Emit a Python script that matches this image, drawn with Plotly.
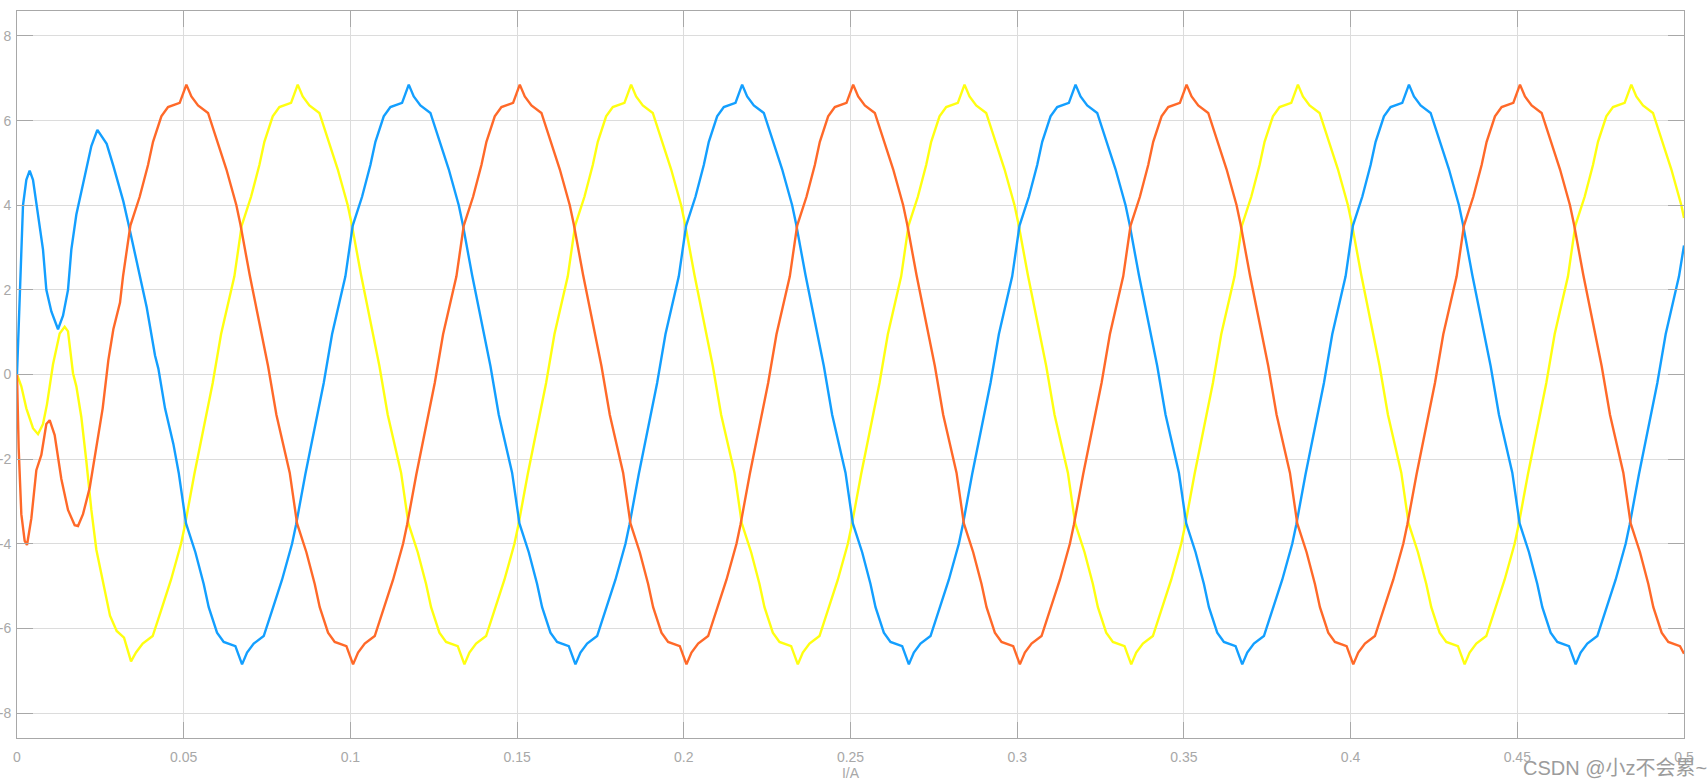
import plotly.graph_objects as go

# ---------------- data (time in s, current in A) ----------------
blue_t = [
    0.0000, 0.0008, 0.0018, 0.0028, 0.0038, 0.0048, 0.0063, 0.0078, 0.0088, 0.0103,
    0.0123, 0.0138, 0.0153, 0.0163, 0.0178, 0.0198, 0.0223, 0.0241, 0.0253, 0.0269,
    0.0289, 0.0319, 0.0334, 0.0359, 0.0389, 0.0414, 0.0424, 0.0444, 0.0469,
    0.0485, 0.0507, 0.0535, 0.0560, 0.0575, 0.0600, 0.0620, 0.0655, 0.0675,
    0.0690, 0.0710, 0.0740, 0.0765, 0.0795, 0.0825, 0.0837, 0.0865, 0.0895, 0.0920, 0.0945, 0.0965, 0.0985, 0.1007, 0.1035, 0.1060, 0.1075, 0.1100, 0.1120, 0.1155, 0.1175,
    0.1190, 0.1210, 0.1240, 0.1265, 0.1295, 0.1325, 0.1337, 0.1365, 0.1395, 0.1420, 0.1445, 0.1465, 0.1485, 0.1507, 0.1535, 0.1560, 0.1575, 0.1600, 0.1620, 0.1655, 0.1675,
    0.1690, 0.1710, 0.1740, 0.1765, 0.1795, 0.1825, 0.1837, 0.1865, 0.1895, 0.1920, 0.1945, 0.1965, 0.1985, 0.2007, 0.2035, 0.2060, 0.2075, 0.2100, 0.2120, 0.2155, 0.2175,
    0.2190, 0.2210, 0.2240, 0.2265, 0.2295, 0.2325, 0.2337, 0.2365, 0.2395, 0.2420, 0.2445, 0.2465, 0.2485, 0.2507, 0.2535, 0.2560, 0.2575, 0.2600, 0.2620, 0.2655, 0.2675,
    0.2690, 0.2710, 0.2740, 0.2765, 0.2795, 0.2825, 0.2837, 0.2865, 0.2895, 0.2920, 0.2945, 0.2965, 0.2985, 0.3007, 0.3035, 0.3060, 0.3075, 0.3100, 0.3120, 0.3155, 0.3175,
    0.3190, 0.3210, 0.3240, 0.3265, 0.3295, 0.3325, 0.3337, 0.3365, 0.3395, 0.3420, 0.3445, 0.3465, 0.3485, 0.3507, 0.3535, 0.3560, 0.3575, 0.3600, 0.3620, 0.3655, 0.3675,
    0.3690, 0.3710, 0.3740, 0.3765, 0.3795, 0.3825, 0.3837, 0.3865, 0.3895, 0.3920, 0.3945, 0.3965, 0.3985, 0.4007, 0.4035, 0.4060, 0.4075, 0.4100, 0.4120, 0.4155, 0.4175,
    0.4190, 0.4210, 0.4240, 0.4265, 0.4295, 0.4325, 0.4337, 0.4365, 0.4395, 0.4420, 0.4445, 0.4465, 0.4485, 0.4507, 0.4535, 0.4560, 0.4575, 0.4600, 0.4620, 0.4655, 0.4675,
    0.4690, 0.4710, 0.4740, 0.4765, 0.4795, 0.4825, 0.4837, 0.4865, 0.4895, 0.4920, 0.4945, 0.4965, 0.4985, 0.5000,
]
blue_i = [
    0.00, 2.00, 4.00, 4.60, 4.82, 4.60, 3.78, 2.95, 2.00, 1.49,
    1.07, 1.39, 2.00, 2.95, 3.78, 4.50, 5.40, 5.78, 5.65, 5.45,
    4.93, 4.09, 3.57, 2.64, 1.59, 0.45, 0.14, -0.80, -1.64,
    -2.32, -3.52, -4.20, -4.95, -5.50, -6.10, -6.32, -6.42, -6.85,
    -6.57, -6.36, -6.18, -5.58, -4.85, -4.00, -3.55, -2.35, -1.15, -0.20, 0.95, 1.60, 2.32, 3.52, 4.20, 4.95, 5.50, 6.10, 6.32, 6.42, 6.85,
    6.57, 6.36, 6.18, 5.58, 4.85, 4.00, 3.55, 2.35, 1.15, 0.20, -0.95, -1.60, -2.32, -3.52, -4.20, -4.95, -5.50, -6.10, -6.32, -6.42, -6.85,
    -6.57, -6.36, -6.18, -5.58, -4.85, -4.00, -3.55, -2.35, -1.15, -0.20, 0.95, 1.60, 2.32, 3.52, 4.20, 4.95, 5.50, 6.10, 6.32, 6.42, 6.85,
    6.57, 6.36, 6.18, 5.58, 4.85, 4.00, 3.55, 2.35, 1.15, 0.20, -0.95, -1.60, -2.32, -3.52, -4.20, -4.95, -5.50, -6.10, -6.32, -6.42, -6.85,
    -6.57, -6.36, -6.18, -5.58, -4.85, -4.00, -3.55, -2.35, -1.15, -0.20, 0.95, 1.60, 2.32, 3.52, 4.20, 4.95, 5.50, 6.10, 6.32, 6.42, 6.85,
    6.57, 6.36, 6.18, 5.58, 4.85, 4.00, 3.55, 2.35, 1.15, 0.20, -0.95, -1.60, -2.32, -3.52, -4.20, -4.95, -5.50, -6.10, -6.32, -6.42, -6.85,
    -6.57, -6.36, -6.18, -5.58, -4.85, -4.00, -3.55, -2.35, -1.15, -0.20, 0.95, 1.60, 2.32, 3.52, 4.20, 4.95, 5.50, 6.10, 6.32, 6.42, 6.85,
    6.57, 6.36, 6.18, 5.58, 4.85, 4.00, 3.55, 2.35, 1.15, 0.20, -0.95, -1.60, -2.32, -3.52, -4.20, -4.95, -5.50, -6.10, -6.32, -6.42, -6.85,
    -6.57, -6.36, -6.18, -5.58, -4.85, -4.00, -3.55, -2.35, -1.15, -0.20, 0.95, 1.60, 2.32, 3.05,
]

red_t = [
    0.0000, 0.0005, 0.0013, 0.0023, 0.0030, 0.0043, 0.0058, 0.0073, 0.0088, 0.0098,
    0.0113, 0.0133, 0.0153, 0.0173, 0.0183, 0.0198, 0.0218, 0.0238, 0.0257, 0.0274,
    0.0289, 0.0309,
    0.0318, 0.0340, 0.0368, 0.0393, 0.0408, 0.0433, 0.0453, 0.0488, 0.0508,
    0.0523, 0.0543, 0.0573, 0.0598, 0.0628, 0.0658, 0.0670, 0.0698, 0.0728, 0.0753, 0.0778, 0.0798, 0.0818, 0.0840, 0.0868, 0.0893, 0.0908, 0.0933, 0.0953, 0.0988, 0.1008,
    0.1023, 0.1043, 0.1073, 0.1098, 0.1128, 0.1158, 0.1170, 0.1198, 0.1228, 0.1253, 0.1278, 0.1298, 0.1318, 0.1340, 0.1368, 0.1393, 0.1408, 0.1433, 0.1453, 0.1488, 0.1508,
    0.1523, 0.1543, 0.1573, 0.1598, 0.1628, 0.1658, 0.1670, 0.1698, 0.1728, 0.1753, 0.1778, 0.1798, 0.1818, 0.1840, 0.1868, 0.1893, 0.1908, 0.1933, 0.1953, 0.1988, 0.2008,
    0.2023, 0.2043, 0.2073, 0.2098, 0.2128, 0.2158, 0.2170, 0.2198, 0.2228, 0.2253, 0.2278, 0.2298, 0.2318, 0.2340, 0.2368, 0.2393, 0.2408, 0.2433, 0.2453, 0.2488, 0.2508,
    0.2523, 0.2543, 0.2573, 0.2598, 0.2628, 0.2658, 0.2670, 0.2698, 0.2728, 0.2753, 0.2778, 0.2798, 0.2818, 0.2840, 0.2868, 0.2893, 0.2908, 0.2933, 0.2953, 0.2988, 0.3008,
    0.3023, 0.3043, 0.3073, 0.3098, 0.3128, 0.3158, 0.3170, 0.3198, 0.3228, 0.3253, 0.3278, 0.3298, 0.3318, 0.3340, 0.3368, 0.3393, 0.3408, 0.3433, 0.3453, 0.3488, 0.3508,
    0.3523, 0.3543, 0.3573, 0.3598, 0.3628, 0.3658, 0.3670, 0.3698, 0.3728, 0.3753, 0.3778, 0.3798, 0.3818, 0.3840, 0.3868, 0.3893, 0.3908, 0.3933, 0.3953, 0.3988, 0.4008,
    0.4023, 0.4043, 0.4073, 0.4098, 0.4128, 0.4158, 0.4170, 0.4198, 0.4228, 0.4253, 0.4278, 0.4298, 0.4318, 0.4340, 0.4368, 0.4393, 0.4408, 0.4433, 0.4453, 0.4488, 0.4508,
    0.4523, 0.4543, 0.4573, 0.4598, 0.4628, 0.4658, 0.4670, 0.4698, 0.4728, 0.4753, 0.4778, 0.4798, 0.4818, 0.4840, 0.4868, 0.4893, 0.4908, 0.4933, 0.4953, 0.4988, 0.5000,
]
red_i = [
    0.00, -1.74, -3.30, -3.93, -4.03, -3.40, -2.26, -1.90, -1.17, -1.08,
    -1.43, -2.47, -3.20, -3.56, -3.58, -3.30, -2.68, -1.74, -0.80, 0.34,
    1.07, 1.70,
    2.32, 3.52, 4.20, 4.95, 5.50, 6.10, 6.32, 6.42, 6.85,
    6.57, 6.36, 6.18, 5.58, 4.85, 4.00, 3.55, 2.35, 1.15, 0.20, -0.95, -1.60, -2.32, -3.52, -4.20, -4.95, -5.50, -6.10, -6.32, -6.42, -6.85,
    -6.57, -6.36, -6.18, -5.58, -4.85, -4.00, -3.55, -2.35, -1.15, -0.20, 0.95, 1.60, 2.32, 3.52, 4.20, 4.95, 5.50, 6.10, 6.32, 6.42, 6.85,
    6.57, 6.36, 6.18, 5.58, 4.85, 4.00, 3.55, 2.35, 1.15, 0.20, -0.95, -1.60, -2.32, -3.52, -4.20, -4.95, -5.50, -6.10, -6.32, -6.42, -6.85,
    -6.57, -6.36, -6.18, -5.58, -4.85, -4.00, -3.55, -2.35, -1.15, -0.20, 0.95, 1.60, 2.32, 3.52, 4.20, 4.95, 5.50, 6.10, 6.32, 6.42, 6.85,
    6.57, 6.36, 6.18, 5.58, 4.85, 4.00, 3.55, 2.35, 1.15, 0.20, -0.95, -1.60, -2.32, -3.52, -4.20, -4.95, -5.50, -6.10, -6.32, -6.42, -6.85,
    -6.57, -6.36, -6.18, -5.58, -4.85, -4.00, -3.55, -2.35, -1.15, -0.20, 0.95, 1.60, 2.32, 3.52, 4.20, 4.95, 5.50, 6.10, 6.32, 6.42, 6.85,
    6.57, 6.36, 6.18, 5.58, 4.85, 4.00, 3.55, 2.35, 1.15, 0.20, -0.95, -1.60, -2.32, -3.52, -4.20, -4.95, -5.50, -6.10, -6.32, -6.42, -6.85,
    -6.57, -6.36, -6.18, -5.58, -4.85, -4.00, -3.55, -2.35, -1.15, -0.20, 0.95, 1.60, 2.32, 3.52, 4.20, 4.95, 5.50, 6.10, 6.32, 6.42, 6.85,
    6.57, 6.36, 6.18, 5.58, 4.85, 4.00, 3.55, 2.35, 1.15, 0.20, -0.95, -1.60, -2.32, -3.52, -4.20, -4.95, -5.50, -6.10, -6.32, -6.42, -6.60,
]

yellow_t = [
    0.0000, 0.0013, 0.0028, 0.0048, 0.0063, 0.0078, 0.0090, 0.0108, 0.0128, 0.0143,
    0.0153, 0.0168, 0.0178, 0.0193, 0.0208, 0.0223, 0.0238, 0.0248, 0.0263, 0.0279,
    0.0299, 0.0321, 0.0342,
    0.0357, 0.0377, 0.0407, 0.0432, 0.0462, 0.0492, 0.0504, 0.0532, 0.0562, 0.0587, 0.0612, 0.0632, 0.0652, 0.0674, 0.0702, 0.0727, 0.0742, 0.0767, 0.0787, 0.0822, 0.0842,
    0.0857, 0.0877, 0.0907, 0.0932, 0.0962, 0.0992, 0.1004, 0.1032, 0.1062, 0.1087, 0.1112, 0.1132, 0.1152, 0.1174, 0.1202, 0.1227, 0.1242, 0.1267, 0.1287, 0.1322, 0.1342,
    0.1357, 0.1377, 0.1407, 0.1432, 0.1462, 0.1492, 0.1504, 0.1532, 0.1562, 0.1587, 0.1612, 0.1632, 0.1652, 0.1674, 0.1702, 0.1727, 0.1742, 0.1767, 0.1787, 0.1822, 0.1842,
    0.1857, 0.1877, 0.1907, 0.1932, 0.1962, 0.1992, 0.2004, 0.2032, 0.2062, 0.2087, 0.2112, 0.2132, 0.2152, 0.2174, 0.2202, 0.2227, 0.2242, 0.2267, 0.2287, 0.2322, 0.2342,
    0.2357, 0.2377, 0.2407, 0.2432, 0.2462, 0.2492, 0.2504, 0.2532, 0.2562, 0.2587, 0.2612, 0.2632, 0.2652, 0.2674, 0.2702, 0.2727, 0.2742, 0.2767, 0.2787, 0.2822, 0.2842,
    0.2857, 0.2877, 0.2907, 0.2932, 0.2962, 0.2992, 0.3004, 0.3032, 0.3062, 0.3087, 0.3112, 0.3132, 0.3152, 0.3174, 0.3202, 0.3227, 0.3242, 0.3267, 0.3287, 0.3322, 0.3342,
    0.3357, 0.3377, 0.3407, 0.3432, 0.3462, 0.3492, 0.3504, 0.3532, 0.3562, 0.3587, 0.3612, 0.3632, 0.3652, 0.3674, 0.3702, 0.3727, 0.3742, 0.3767, 0.3787, 0.3822, 0.3842,
    0.3857, 0.3877, 0.3907, 0.3932, 0.3962, 0.3992, 0.4004, 0.4032, 0.4062, 0.4087, 0.4112, 0.4132, 0.4152, 0.4174, 0.4202, 0.4227, 0.4242, 0.4267, 0.4287, 0.4322, 0.4342,
    0.4357, 0.4377, 0.4407, 0.4432, 0.4462, 0.4492, 0.4504, 0.4532, 0.4562, 0.4587, 0.4612, 0.4632, 0.4652, 0.4674, 0.4702, 0.4727, 0.4742, 0.4767, 0.4787, 0.4822, 0.4842,
    0.4857, 0.4877, 0.4907, 0.4932, 0.4962, 0.4992, 0.5000,
]
yellow_i = [
    0.00, -0.28, -0.80, -1.27, -1.41, -1.17, -0.70, 0.24, 0.97, 1.13,
    1.02, 0.03, -0.28, -1.01, -2.05, -3.20, -4.14, -4.50, -5.07, -5.70,
    -6.06, -6.22, -6.78,
    -6.57, -6.36, -6.18, -5.58, -4.85, -4.00, -3.55, -2.35, -1.15, -0.20, 0.95, 1.60, 2.32, 3.52, 4.20, 4.95, 5.50, 6.10, 6.32, 6.42, 6.85,
    6.57, 6.36, 6.18, 5.58, 4.85, 4.00, 3.55, 2.35, 1.15, 0.20, -0.95, -1.60, -2.32, -3.52, -4.20, -4.95, -5.50, -6.10, -6.32, -6.42, -6.85,
    -6.57, -6.36, -6.18, -5.58, -4.85, -4.00, -3.55, -2.35, -1.15, -0.20, 0.95, 1.60, 2.32, 3.52, 4.20, 4.95, 5.50, 6.10, 6.32, 6.42, 6.85,
    6.57, 6.36, 6.18, 5.58, 4.85, 4.00, 3.55, 2.35, 1.15, 0.20, -0.95, -1.60, -2.32, -3.52, -4.20, -4.95, -5.50, -6.10, -6.32, -6.42, -6.85,
    -6.57, -6.36, -6.18, -5.58, -4.85, -4.00, -3.55, -2.35, -1.15, -0.20, 0.95, 1.60, 2.32, 3.52, 4.20, 4.95, 5.50, 6.10, 6.32, 6.42, 6.85,
    6.57, 6.36, 6.18, 5.58, 4.85, 4.00, 3.55, 2.35, 1.15, 0.20, -0.95, -1.60, -2.32, -3.52, -4.20, -4.95, -5.50, -6.10, -6.32, -6.42, -6.85,
    -6.57, -6.36, -6.18, -5.58, -4.85, -4.00, -3.55, -2.35, -1.15, -0.20, 0.95, 1.60, 2.32, 3.52, 4.20, 4.95, 5.50, 6.10, 6.32, 6.42, 6.85,
    6.57, 6.36, 6.18, 5.58, 4.85, 4.00, 3.55, 2.35, 1.15, 0.20, -0.95, -1.60, -2.32, -3.52, -4.20, -4.95, -5.50, -6.10, -6.32, -6.42, -6.85,
    -6.57, -6.36, -6.18, -5.58, -4.85, -4.00, -3.55, -2.35, -1.15, -0.20, 0.95, 1.60, 2.32, 3.52, 4.20, 4.95, 5.50, 6.10, 6.32, 6.42, 6.85,
    6.57, 6.36, 6.18, 5.58, 4.85, 4.00, 3.70,
]

x_ticks = [0, 0.05, 0.1, 0.15, 0.2, 0.25, 0.3, 0.35, 0.4, 0.45, 0.5]
x_tick_labels = ["0", "0.05", "0.1", "0.15", "0.2", "0.25", "0.3", "0.35", "0.4", "0.45", "0.5"]
y_ticks = [-8, -6, -4, -2, 0, 2, 4, 6, 8]
y_tick_labels = ["-8", "-6", "-4", "-2", "0", "2", "4", "6", "8"]
x_title = "I/A"
watermark = "CSDN @小z不会累~"

assert len(blue_t) == len(blue_i), (len(blue_t), len(blue_i))
assert len(red_t) == len(red_i), (len(red_t), len(red_i))
assert len(yellow_t) == len(yellow_i), (len(yellow_t), len(yellow_i))

# ---------------- figure ----------------
GREY = "#a8a8a8"
GRID = "#dcdcdc"
FONT = "Liberation Sans, Arial, sans-serif"

fig = go.Figure()
fig.add_trace(go.Scatter(x=yellow_t, y=yellow_i, mode="lines",
                         line=dict(color="#FFFF11", width=2.4), name="c"))
fig.add_trace(go.Scatter(x=blue_t, y=blue_i, mode="lines",
                         line=dict(color="#139FFF", width=2.4), name="a"))
fig.add_trace(go.Scatter(x=red_t, y=red_i, mode="lines",
                         line=dict(color="#FF6929", width=2.4), name="b"))

axis_common = dict(
    showgrid=True, gridcolor=GRID, gridwidth=1,
    showline=True, linecolor=GREY, linewidth=1, mirror="ticks",
    ticks="inside", ticklen=16, tickwidth=1, tickcolor=GREY,
    zeroline=False, automargin=False,
    tickfont=dict(family=FONT, size=14, color=GREY),
)

fig.update_xaxes(range=[0, 0.5], tickvals=x_ticks, ticktext=x_tick_labels,
                 title=dict(text=x_title, standoff=0,
                            font=dict(family=FONT, size=14, color=GREY)),
                 ticklabelstandoff=6,
                 **axis_common)
fig.update_yaxes(range=[-8.59, 8.59], tickvals=y_ticks, ticktext=y_tick_labels,
                 ticklabelstandoff=2,
                 **axis_common)

fig.add_annotation(text=watermark, xref="paper", yref="paper",
                   x=1.0150, y=-0.041, xanchor="right", yanchor="middle",
                   showarrow=False,
                   font=dict(family="Liberation Sans, Noto Sans CJK SC, sans-serif", size=20, color="#9c9c9c"))

fig.update_layout(
    template="none",
    width=1707, height=784,
    margin=dict(l=17, r=23, t=11, b=46, pad=0),
    paper_bgcolor="white", plot_bgcolor="white",
    showlegend=False,
)

fig.write_html(
    "out.html",
    config={"displayModeBar": False},
    post_script="document.body.style.margin='0';document.body.style.overflow='hidden';",
)
